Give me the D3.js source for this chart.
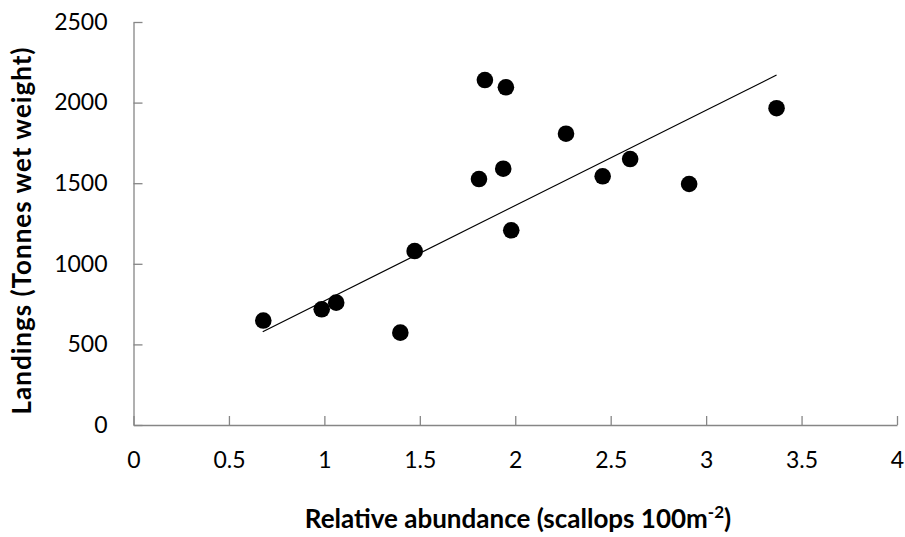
<!DOCTYPE html>
<html><head><meta charset="utf-8">
<script src="https://cdn.jsdelivr.net/npm/d3@7"></script>
<style>
html,body{margin:0;padding:0;background:#fff;}
text{font-family:Lato,"Open Sans",sans-serif;fill:#000;}
</style></head>
<body><svg id="chart" width="905" height="537"></svg>
<script>
const abundance = [0.680,0.986,1.062,1.398,1.473,1.810,1.841,1.937,1.951,1.979,2.266,2.458,2.602,2.911,3.369];
const landings  = [648,718,759,573,1079,1526,2140,1590,2095,1208,1807,1543,1650,1495,1965];
const trendX = [0.677, 3.369];
const trendY = [579, 2171];
const xTicks = [0,0.5,1,1.5,2,2.5,3,3.5,4];
const yTicks = [0,500,1000,1500,2000,2500];
const xTitle = "Relative abundance (scallops 100m";
const yTitle = "Landings (Tonnes wet weight)";

const svg = d3.select("#chart");
const x = d3.scaleLinear().domain([0,4]).range([133.5,897]);
const y = d3.scaleLinear().domain([0,2500]).range([425,22]);

const xAxis = svg.append("g").attr("transform","translate(0,425)")
  .call(d3.axisBottom(x).tickValues(xTicks).tickSizeInner(-9).tickSizeOuter(0).tickPadding(27).tickFormat(d=>String(d)));
const yAxis = svg.append("g").attr("transform","translate(133.5,0)")
  .call(d3.axisLeft(y).tickValues(yTicks).tickSizeInner(-9).tickSizeOuter(0).tickPadding(26).tickFormat(d=>String(d)));
[xAxis,yAxis].forEach(a=>{
  a.selectAll("path,line").attr("stroke","#868686").attr("stroke-width",1.3);
  a.selectAll("text").style("font-size","23px").attr("fill","#000");
});

// trendline
svg.append("line")
  .attr("x1",x(trendX[0])).attr("y1",y(trendY[0]))
  .attr("x2",x(trendX[1])).attr("y2",y(trendY[1]))
  .attr("stroke","#000").attr("stroke-width",1.2);

svg.append("g").selectAll("circle").data(abundance).join("circle")
  .attr("cx",(d)=>x(d)).attr("cy",(d,i)=>y(landings[i])).attr("r",8.3).attr("fill","#000");

const xt = svg.append("text").attr("x",518).attr("y",528).attr("text-anchor","middle")
  .style("font-size","26px").style("font-weight","bold");
xt.append("tspan").text(xTitle);
xt.append("tspan").attr("dy",-10).style("font-size","17px").text("-2");
xt.append("tspan").attr("dy",10).text(")");

svg.append("text").attr("transform","translate(31,231) rotate(-90)").attr("text-anchor","middle")
  .attr("textLength",367).attr("lengthAdjust","spacing")
  .style("font-size","26px").style("font-weight","bold").text(yTitle);
</script></body></html>
